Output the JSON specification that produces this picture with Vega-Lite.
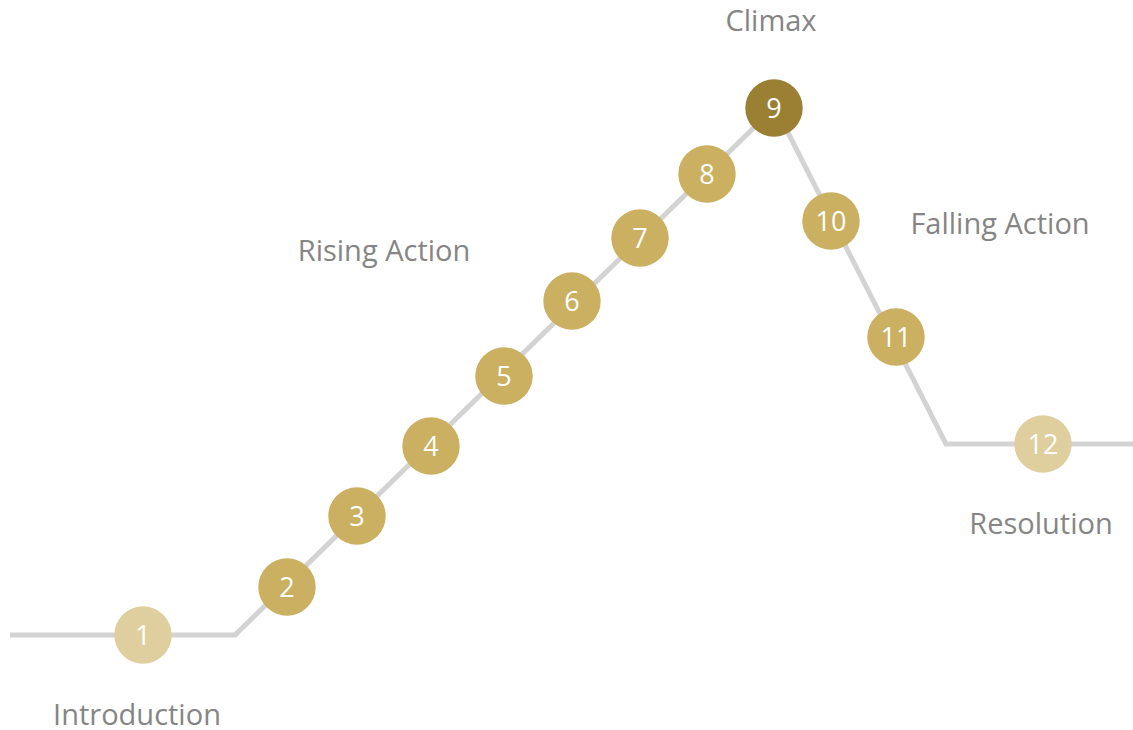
{
  "$schema": "https://vega.github.io/schema/vega-lite/v6.json",
  "width": 1133,
  "height": 730,
  "autosize": {"type": "none"},
  "padding": 0,
  "background": "white",
  "config": {"view": {"stroke": null}},
  "datasets": {
    "path": [
      {"x": 10, "y": 635, "o": 1},
      {"x": 235, "y": 635, "o": 2},
      {"x": 775, "y": 107, "o": 3},
      {"x": 946, "y": 444, "o": 4},
      {"x": 1133, "y": 444, "o": 5}
    ],
    "nodes": [
      {"n": "1", "x": 143, "y": 635, "k": "light"},
      {"n": "2", "x": 287, "y": 587, "k": "mid"},
      {"n": "3", "x": 357, "y": 516, "k": "mid"},
      {"n": "4", "x": 431, "y": 446, "k": "mid"},
      {"n": "5", "x": 504, "y": 376, "k": "mid"},
      {"n": "6", "x": 572, "y": 301, "k": "mid"},
      {"n": "7", "x": 640, "y": 238, "k": "mid"},
      {"n": "8", "x": 707, "y": 174, "k": "mid"},
      {"n": "9", "x": 774, "y": 108, "k": "dark"},
      {"n": "10", "x": 831, "y": 221, "k": "mid"},
      {"n": "11", "x": 896, "y": 337, "k": "mid"},
      {"n": "12", "x": 1043, "y": 444, "k": "light"}
    ],
    "labels": [
      {"t": "Climax", "x": 771, "y": 22},
      {"t": "Rising Action", "x": 384, "y": 252},
      {"t": "Falling Action", "x": 1000, "y": 225},
      {"t": "Resolution", "x": 1041, "y": 525},
      {"t": "Introduction", "x": 137, "y": 716}
    ]
  },
  "layer": [
    {
      "data": {"name": "path"},
      "mark": {"type": "line", "color": "#d3d3d3", "strokeWidth": 5, "strokeJoin": "miter"},
      "encoding": {
        "x": {"field": "x", "type": "quantitative", "scale": {"domain": [0, 1133]}, "axis": null},
        "y": {"field": "y", "type": "quantitative", "scale": {"domain": [730, 0]}, "axis": null},
        "order": {"field": "o"}
      }
    },
    {
      "data": {"name": "nodes"},
      "mark": {"type": "circle", "opacity": 1, "size": 3300},
      "encoding": {
        "x": {"field": "x", "type": "quantitative", "scale": {"domain": [0, 1133]}, "axis": null},
        "y": {"field": "y", "type": "quantitative", "scale": {"domain": [730, 0]}, "axis": null},
        "color": {"field": "k", "type": "nominal", "scale": {"domain": ["light", "mid", "dark"], "range": ["#e0cf9e", "#cbb061", "#9b7f33"]}, "legend": null}
      }
    },
    {
      "data": {"name": "nodes"},
      "mark": {"type": "text", "color": "white", "font": "Open Sans", "fontSize": 27, "baseline": "middle", "align": "center", "dy": 2},
      "encoding": {
        "x": {"field": "x", "type": "quantitative", "scale": {"domain": [0, 1133]}, "axis": null},
        "y": {"field": "y", "type": "quantitative", "scale": {"domain": [730, 0]}, "axis": null},
        "text": {"field": "n"}
      }
    },
    {
      "data": {"name": "labels"},
      "mark": {"type": "text", "color": "#858585", "font": "Open Sans", "fontSize": 29, "baseline": "middle", "align": "center"},
      "encoding": {
        "x": {"field": "x", "type": "quantitative", "scale": {"domain": [0, 1133]}, "axis": null},
        "y": {"field": "y", "type": "quantitative", "scale": {"domain": [730, 0]}, "axis": null},
        "text": {"field": "t"}
      }
    }
  ]
}
